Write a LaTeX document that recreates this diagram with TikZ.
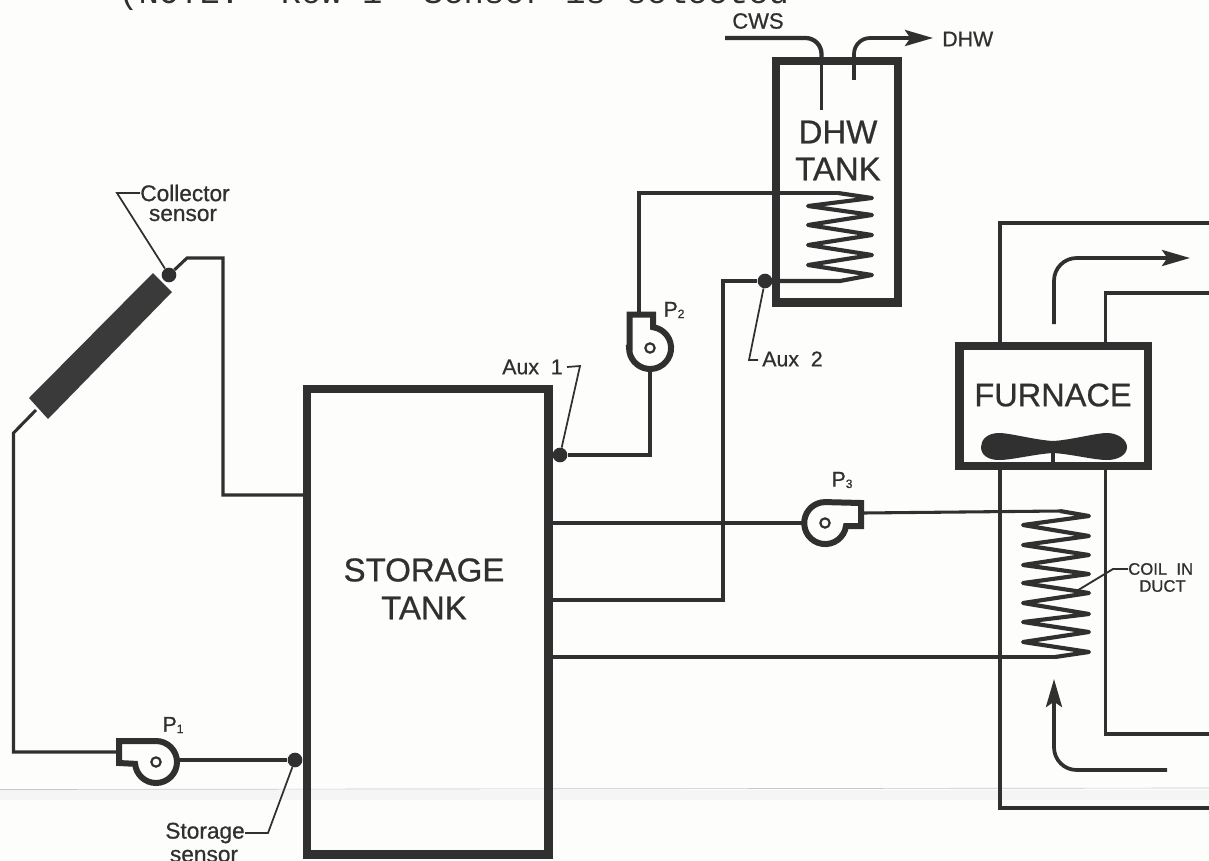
\documentclass[tikz,border=0pt]{standalone}
\usepackage{fontspec}
\setmainfont[FakeBold=0.7]{Liberation Sans}
\newfontfamily\typewr{Liberation Mono}
\usetikzlibrary{arrows.meta}
\definecolor{ink}{HTML}{303030}
\definecolor{paper}{HTML}{FDFDFC}
\tikzset{
  heavy/.style={draw=ink,line width=6.5pt,inner sep=0pt,outer sep=0pt},
  pipe/.style={draw=ink,line width=2.3pt,line join=miter},
  coil/.style={draw=ink,line width=3.1pt,line join=round},
  leader/.style={draw=ink,line width=1.3pt},
  pumpbody/.style={draw=ink,line width=4.5pt,line join=miter},
  pumpeye/.style={circle,draw=ink,line width=1.6pt,minimum size=7pt,inner sep=0pt},
  sensordot/.style={circle,fill=ink,minimum size=11pt,inner sep=0pt},
  lbl/.style={inner sep=0pt,text=ink,align=center},
  flow/.style={draw=ink,line width=2.8pt,-{Stealth[length=21pt,width=12pt,inset=4pt]}},
}
\newcommand{\tsize}[1]{\fontsize{#1}{#1}\selectfont}
\newcommand{\pumpname}[1]{P{\tsize{9}\raisebox{-1pt}{#1}}}
\begin{document}
\begin{tikzpicture}[x=0.75pt,y=-0.75pt]
\useasboundingbox (0,0) rectangle (1209,860);
\fill[paper] (0,0) rectangle (1209,860);
\clip (0,0) rectangle (1209,860);
% scanner streak
\fill[black!4] (0,790) rectangle (1209,800);
\draw[black!22,line width=0.5pt] (0,789.5) -- (1209,788);
% cropped typewritten line
\node[inner sep=0pt,anchor=base west,text=ink] (note) at (118,3)
  {\typewr\tsize{25.4}(NOTE:\ \ Row 1\ \ Sensor is selected};

% vessels
\node[heavy,minimum width=181pt,minimum height=349pt] (storage) at (427.5,621.5) {};
\node[heavy,minimum width=91.5pt,minimum height=181pt] (dhwtank) at (837,181.5) {};
\node[heavy,minimum width=141.5pt,minimum height=90pt] (furnace) at (1053.5,406) {};

% texts
\node[lbl] (tstorage) at (424,570) {\tsize{24.75}STORAGE};
\node[lbl] (ttank) at (424,608) {\tsize{24.75}TANK};
\node[lbl] (tdhw) at (838,132) {\tsize{24.75}DHW};
\node[lbl] (tdhwtank) at (838,169) {\tsize{24.75}TANK};
\node[lbl] (tfurnace) at (1053,395) {\tsize{24.4}FURNACE};
\node[lbl] (tcws) at (758,21) {\tsize{16.5}CWS};
\node[lbl,anchor=west] (tdhwout) at (942,39) {\tsize{16}DHW};
\node[lbl] (tcoll) at (185,193) {\tsize{17}Collector};
\node[lbl] (tcollb) at (183,215) {\tsize{17}sensor};
\node[lbl,anchor=east] (tstor) at (245,833) {\tsize{17}Storage};
\node[lbl] (tstorb) at (204,856) {\tsize{17}sensor};
\node[lbl,anchor=east] (taux1) at (563,367) {\tsize{16}Aux\ \ 1};
\node[lbl,anchor=west] (taux2) at (762,359) {\tsize{16}Aux\ \ 2};
\node[lbl,anchor=west] (tcoil) at (1128,569) {\tsize{12.5}COIL\ \ IN};
\node[lbl] (tduct) at (1162.5,586) {\tsize{12.5}DUCT};
\node[lbl] (tp1) at (173,725) {\tsize{16}\pumpname{1}};
\node[lbl] (tp2) at (674,310) {\tsize{16}\pumpname{2}};
\node[lbl] (tp3) at (842,480) {\tsize{16}\pumpname{3}};

% sensors
\node[sensordot] (scoll) at (169,275) {};
\node[sensordot] (sstor) at (295,760) {};
\node[sensordot] (saux1) at (560,455) {};
\node[sensordot] (saux2) at (765,281) {};

% collector
\fill[ink!95] (29,398) -- (48,419) -- (172,292) -- (153,273) -- cycle;
\coordinate (collbot) at (36,410);
\coordinate (colltop) at (166,282);

% pumps
\node[pumpeye] (p1) at (156,762) {};
\node[pumpeye] (p2) at (650,348) {};
\node[pumpeye] (p3) at (825,523) {};
\draw[pumpbody] (119,763) -- (119,741) -- (156,741) arc[start angle=-90,end angle=175,radius=21] -- cycle;
\draw[pumpbody] (629.5,348) -- (629.5,314.5) -- (653,314.5) -- (653,327.2) arc[start angle=-82,end angle=180,radius=21] -- cycle;
\draw[pumpbody] (861,503) -- (861,526) -- (846,526) arc[start angle=8,end angle=270,radius=21] -- cycle;
\coordinate (p1in) at (117,752);
\coordinate (p1out) at (178,760);
\coordinate (p2in) at (650,371);
\coordinate (p2out) at (639,312);
\coordinate (p3in) at (803,523);
\coordinate (p3out) at (863,513);

% collector loop
\coordinate (ca) at (13.5,433);
\coordinate (cb) at (13.5,752);
\draw[pipe] (collbot) -- (ca) -- (cb) -- (p1in);
\draw[pipe] (p1out) -- (sstor);
\coordinate (cc) at (187,258);
\coordinate (cd) at (223,258);
\coordinate (ce) at (223,495);
\coordinate (stin) at (304,495);
\draw[pipe] (scoll) -- (cc) -- (cd) -- (ce) -- (stin);

% DHW loop
\coordinate (d1) at (639,193);
\coordinate (d2) at (650,455);
\draw[pipe] (saux1) -- (d2) -- (p2in);
\draw[pipe] (p2out) -- (d1) -- (838,193);
\coordinate (sto2) at (552,600);
\coordinate (r1) at (723,600);
\coordinate (r2) at (723,281);
\draw[pipe] (sto2) -- (r1) -- (r2) -- (saux2);
\draw[coil] (saux2) -- (840,281) -- (872,275) -- (808,265) -- (872,255) -- (808,245) -- (872,235) -- (808,225) -- (872,215) -- (808,206) -- (872,198) -- (838,193);

% coil in duct
\coordinate (sto3) at (552,523);
\coordinate (sto4) at (552,657);
\draw[pipe] (sto3) -- (p3in);
\draw[pipe] (p3out) -- (1060,511);
\draw[coil] (1060,511) -- (1089,516) -- (1023,525) -- (1089,536) -- (1023,545) -- (1089,555) -- (1023,565) -- (1089,574) -- (1023,583) -- (1089,593) -- (1023,603) -- (1089,614) -- (1023,622) -- (1089,632) -- (1023,642) -- (1089,652) -- (1055,657);
\draw[coil,line width=2.6pt] (1055,657) -- (sto4);

% duct
\coordinate (du1) at (1000,346);
\coordinate (du2) at (1000,223);
\coordinate (du3) at (1209,223);
\coordinate (du4) at (1105.5,346);
\coordinate (du5) at (1105.5,293);
\coordinate (du6) at (1209,293);
\draw[pipe] (du1) -- (du2) -- (du3);
\draw[pipe] (du4) -- (du5) -- (du6);
\coordinate (dl1) at (1000,466);
\coordinate (dl2) at (1000,808);
\coordinate (dl3) at (1209,808);
\coordinate (dl4) at (1105.5,466);
\coordinate (dl5) at (1105.5,734);
\coordinate (dl6) at (1209,734);
\draw[pipe] (dl1) -- (dl2) -- (dl3);
\draw[pipe] (dl4) -- (dl5) -- (dl6);

% flow arrows
\coordinate (cws0) at (725,38);
\coordinate (cws1) at (821.5,38);
\coordinate (cws2) at (821.5,110);
\draw[draw=ink,line width=3.2pt,rounded corners=12pt] (cws0) -- (cws1) -- ++(0,22);
\draw[pipe] (821.5,55) -- (cws2);
\coordinate (dh0) at (854,80);
\coordinate (dh1) at (854,38);
\coordinate (dh2) at (933,38);
\draw[pipe] (dh0) -- (854,58);
\draw[flow,rounded corners=12pt] (854,60) -- (dh1) -- (dh2);
\coordinate (a0) at (1054,324);
\coordinate (a1) at (1054,258);
\coordinate (a2) at (1190,258);
\draw[flow,rounded corners=17pt] (a0) -- (a1) -- (a2);
\coordinate (b0) at (1167,770);
\coordinate (b1) at (1054,770);
\coordinate (b2) at (1054,679);
\draw[flow,rounded corners=17pt] (b0) -- (b1) -- (b2);

% furnace fan
\fill[ink] (1053,441) .. controls (1035,440) and (1010,433) .. (999,433)
  .. controls (987,433) and (981,440) .. (981,447)
  .. controls (981,455) and (988,460) .. (999,460)
  .. controls (1012,460) and (1035,454) .. (1053,453)
  .. controls (1071,454) and (1094,460) .. (1107,460)
  .. controls (1118,460) and (1127,455) .. (1127,447)
  .. controls (1127,440) and (1118,433) .. (1107,433)
  .. controls (1096,433) and (1071,440) .. (1053,441) -- cycle;
\draw[ink,line width=3pt] (1053,450) -- (1053,463);

% leaders
\coordinate (lc) at (117,193);
\draw[leader] (tcoll.west) -- (lc) -- (scoll);
\coordinate (ls) at (268,833);
\draw[leader] (tstor.east) -- (ls) -- (sstor);
\coordinate (la1) at (580,366);
\draw[leader] (taux1.east) ++(4,0) -- (la1) -- (saux1);
\coordinate (la2) at (749,360);
\draw[leader] (taux2.west) ++(-4,1) -- (la2) -- (saux2);
\coordinate (lco1) at (1113,569);
\coordinate (lco2) at (1075,592);
\draw[leader,line width=1.4pt] (tcoil.west) -- (lco1) -- (lco2);
\end{tikzpicture}
\end{document}
